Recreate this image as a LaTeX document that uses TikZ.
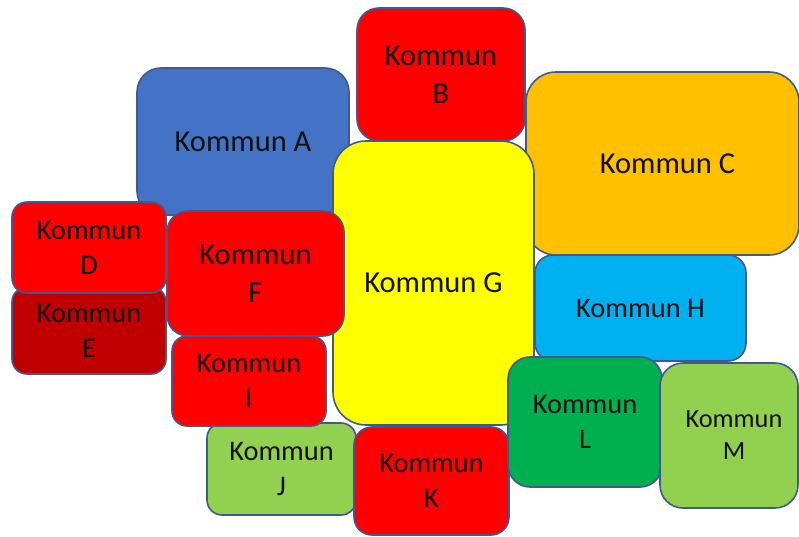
\documentclass[tikz,border=0pt]{standalone}
\usepackage{fontspec}
\setmainfont{Carlito}
\definecolor{kblue}{HTML}{4472C4}
\definecolor{kred}{HTML}{FF0000}
\definecolor{korange}{HTML}{FFC000}
\definecolor{kyellow}{HTML}{FFFF00}
\definecolor{kdarkred}{HTML}{C00000}
\definecolor{klightblue}{HTML}{00B0F0}
\definecolor{kgreen}{HTML}{00B050}
\definecolor{klightgreen}{HTML}{92D050}
\definecolor{kborder}{HTML}{41598F}
\definecolor{ktext}{HTML}{111111}
\tikzset{
  kbox/.style={draw=kborder, line width=1.6pt, inner sep=0pt, outer sep=0pt,
    align=center, text=ktext},
  bigtext/.style={font=\fontsize{30.5}{37.5}\selectfont},
  midtext/.style={font=\fontsize{28.4}{34.8}\selectfont},
  smalltext/.style={font=\fontsize{26.3}{32}\selectfont},
}
\begin{document}
\begin{tikzpicture}[x=1pt,y=-1pt]
\useasboundingbox (0,0) rectangle (799,536);
\node[kbox, bigtext, fill=kblue, minimum width=212pt, minimum height=147pt, rounded corners=24pt] (A) at (243,141.5) {Kommun A};
\node[kbox, bigtext, fill=kred, minimum width=168pt, minimum height=133pt, rounded corners=22pt] (B) at (441,74.5) {Kommun\\B};
\node[kbox, bigtext, fill=korange, minimum width=273pt, minimum height=183pt, rounded corners=30pt] (C) at (662.5,163.5) {\hspace*{10pt}Kommun C};
\node[kbox, midtext, fill=kdarkred, minimum width=154pt, minimum height=87pt, rounded corners=15pt] (E) at (89,330.5) {Kommun\\E};
\node[kbox, midtext, fill=kred, minimum width=154pt, minimum height=91pt, rounded corners=15pt] (D) at (89,247.5) {Kommun\\D};
\node[kbox, bigtext, fill=kyellow, minimum width=201pt, minimum height=284pt, rounded corners=33pt] (G) at (433.5,283) {Kommun G};
\node[kbox, bigtext, fill=kred, minimum width=177pt, minimum height=125pt, rounded corners=21pt] (F) at (255.5,273.5) {Kommun\\F};
\node[kbox, midtext, fill=klightblue, minimum width=211pt, minimum height=106pt, rounded corners=18pt] (H) at (640.5,308) {Kommun H};
\node[kbox, midtext, fill=klightgreen, minimum width=149pt, minimum height=92pt, rounded corners=15pt] (J) at (281.5,469) {Kommun\\J};
\node[kbox, midtext, fill=kred, minimum width=154pt, minimum height=90pt, rounded corners=15pt] (I) at (249,381) {Kommun\\I};
\node[kbox, midtext, fill=kred, minimum width=155pt, minimum height=108pt, rounded corners=18pt] (K) at (431.5,481) {Kommun\\K};
\node[kbox, midtext, fill=kgreen, minimum width=154pt, minimum height=130pt, rounded corners=22pt] (L) at (585,422) {Kommun\\L};
\node[kbox, smalltext, fill=klightgreen, minimum width=138pt, minimum height=145pt, rounded corners=23pt] (M) at (729,435.5) {\hspace*{10pt}Kommun\\\hspace*{10pt}M};
\end{tikzpicture}
\end{document}
